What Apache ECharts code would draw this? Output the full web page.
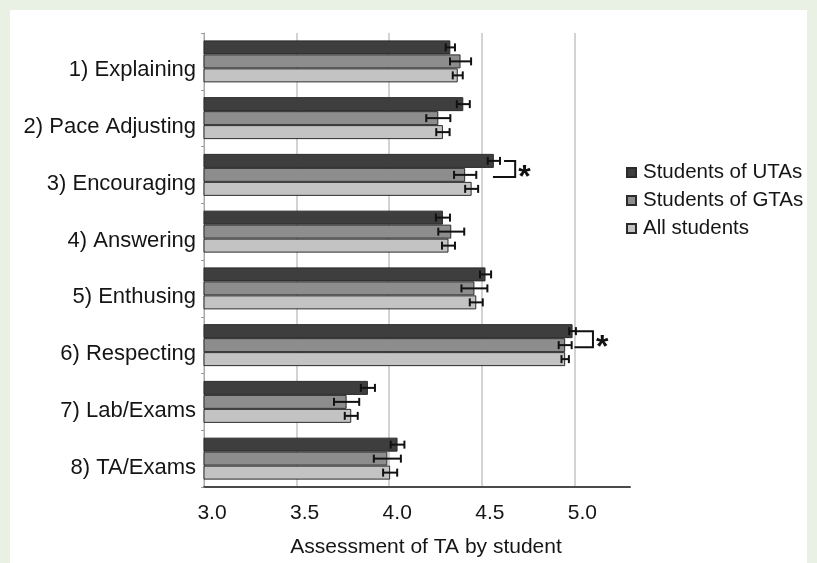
<!DOCTYPE html>
<html>
<head>
<meta charset="utf-8">
<script src="https://cdn.jsdelivr.net/npm/echarts@6/dist/echarts.min.js"></script>
<style>
  html, body { margin: 0; padding: 0; background: #e9f1e5; }
  #panel { position: absolute; left: 10px; top: 10px; width: 797px; height: 553px; background: #ffffff; }
  #chart { position: absolute; left: 0; top: 0; width: 817px; height: 563px; }
</style>
</head>
<body>
<div id="panel"></div>
<div id="chart"></div>
<script>
// Categories of TA behaviour, top to bottom
const categories = [
  '1) Explaining', '2) Pace Adjusting', '3) Encouraging', '4) Answering',
  '5) Enthusing', '6) Respecting', '7) Lab/Exams', '8) TA/Exams'
];
const seriesNames = ['Students of UTAs', 'Students of GTAs', 'All students'];

// Mean ratings
const utaMeans = [4.33, 4.40, 4.565, 4.29, 4.52, 4.99, 3.885, 4.045];
const gtaMeans = [4.385, 4.265, 4.41, 4.335, 4.46, 4.95, 3.77, 3.99];
const allMeans = [4.37, 4.29, 4.445, 4.32, 4.47, 4.95, 3.795, 4.005];

// Standard errors
const utaErr = [0.025, 0.035, 0.033, 0.038, 0.03, 0.018, 0.038, 0.037];
const gtaErr = [0.057, 0.065, 0.06, 0.07, 0.07, 0.035, 0.068, 0.073];
const allErr = [0.027, 0.036, 0.035, 0.035, 0.035, 0.02, 0.035, 0.038];

// Significance brackets: [category index, top arm start, bottom arm start, bracket x]
const sigBrackets = [
  [2, 4.62, 4.56, 4.68],
  [5, 5.0, 5.0, 5.10]
];

// Axis ticks
const xMin = 3.0, xMax = 5.3, xStep = 0.5;

const fills = ['#3e3e3e', '#8d8d8d', '#c3c3c3'];
const edge = '#2b2b2b';
const GAP = 0.26;
const FONT = 'Liberation Sans, Arial, sans-serif';

const means = [utaMeans, gtaMeans, allMeans];
const errs = [utaErr, gtaErr, allErr];

const errData = [];
means.forEach((arr, k) => arr.forEach((v, i) => errData.push([i, v, errs[k][i], k])));

// vertical offset of the k-th bar inside its category band
function barOffset(api, k) {
  const band = api.size([0, 1])[1];
  const group = band * (1 - GAP);
  const bw = group / 3;
  return -group / 2 + (k + 0.5) * bw;
}

const barSeries = seriesNames.map((name, k) => ({
  name: name,
  type: 'bar',
  data: means[k],
  barGap: '0%',
  barCategoryGap: (GAP * 100) + '%',
  itemStyle: { color: fills[k], borderColor: edge, borderWidth: 1 },
  z: 2
}));

const errorSeries = {
  type: 'custom',
  name: 'err',
  data: errData,
  z: 5,
  silent: true,
  renderItem(params, api) {
    const cat = api.value(0), v = api.value(1), e = api.value(2), k = api.value(3);
    const c = api.coord([v, cat]);
    const y = c[1] + barOffset(api, k);
    const lo = api.coord([v - e, cat])[0];
    const hi = api.coord([v + e, cat])[0];
    const h = 4;
    const st = { stroke: '#111', lineWidth: 2 };
    return {
      type: 'group',
      children: [
        { type: 'line', shape: { x1: lo, y1: y, x2: hi, y2: y }, style: st },
        { type: 'line', shape: { x1: lo, y1: y - h, x2: lo, y2: y + h }, style: st },
        { type: 'line', shape: { x1: hi, y1: y - h, x2: hi, y2: y + h }, style: st }
      ]
    };
  }
};

const bracketSeries = {
  type: 'custom',
  name: 'sig',
  data: sigBrackets,
  z: 5,
  silent: true,
  renderItem(params, api) {
    const cat = api.value(0);
    const c = api.coord([api.value(3), cat]);
    const yTop = c[1] + barOffset(api, 0);
    const yBot = c[1] + barOffset(api, 1) + 2;
    const xTop = api.coord([api.value(1), cat])[0];
    const xBot = api.coord([api.value(2), cat])[0];
    return {
      type: 'group',
      children: [
        {
          type: 'polyline',
          shape: { points: [[xTop, yTop], [c[0], yTop], [c[0], yBot], [xBot, yBot]] },
          style: { stroke: '#111', lineWidth: 2, fill: null }
        },
        {
          type: 'text',
          x: c[0] + 3,
          y: (yTop + yBot) / 2 + 9,
          style: { text: '*', fontSize: 32, fontWeight: 'bold', fontFamily: FONT, fill: '#111', verticalAlign: 'middle' }
        }
      ]
    };
  }
};

const chart = echarts.init(document.getElementById('chart'));
chart.setOption({
  animation: false,
  textStyle: { fontFamily: FONT },
  grid: { left: 204, right: 187, top: 33, bottom: 75, containLabel: false },
  legend: {
    data: seriesNames,
    orient: 'vertical',
    left: 621,
    top: 157,
    icon: 'rect',
    itemWidth: 9,
    itemHeight: 9,
    itemGap: 7,
    textStyle: { fontSize: 20.5, color: '#151515', fontFamily: FONT, padding: [0, 0, 0, 2] }
  },
  xAxis: {
    type: 'value',
    min: xMin,
    max: xMax,
    interval: xStep,
    name: 'Assessment of TA by student',
    nameLocation: 'middle',
    nameGap: 50,
    nameTextStyle: { fontSize: 21, color: '#151515', padding: [0, 0, 0, 18] },
    axisLine: { show: true, lineStyle: { color: '#4a4a4a', width: 2 } },
    axisTick: { show: false },
    axisLabel: {
      fontSize: 21, color: '#151515', margin: 16, showMaxLabel: false,
      formatter: v => v.toFixed(1), padding: [0, 0, 0, 16]
    },
    splitLine: { show: true, showMaxLine: false, lineStyle: { color: '#c4c4c4', width: 1.5 } }
  },
  yAxis: {
    type: 'category',
    data: categories,
    inverse: true,
    axisLine: { show: true, lineStyle: { color: '#a8a8a8', width: 1 } },
    axisTick: { show: true, length: 3, lineStyle: { color: '#999' } },
    axisLabel: {
      fontSize: 22, color: '#151515', margin: 8,
      formatter: v => '{t|' + v + '}',
      rich: { t: { fontSize: 22, color: '#151515', fontFamily: FONT, padding: [18, 0, 0, 0] } }
    },
    splitLine: { show: false }
  },
  series: [...barSeries, errorSeries, bracketSeries]
});
</script>
</body>
</html>
